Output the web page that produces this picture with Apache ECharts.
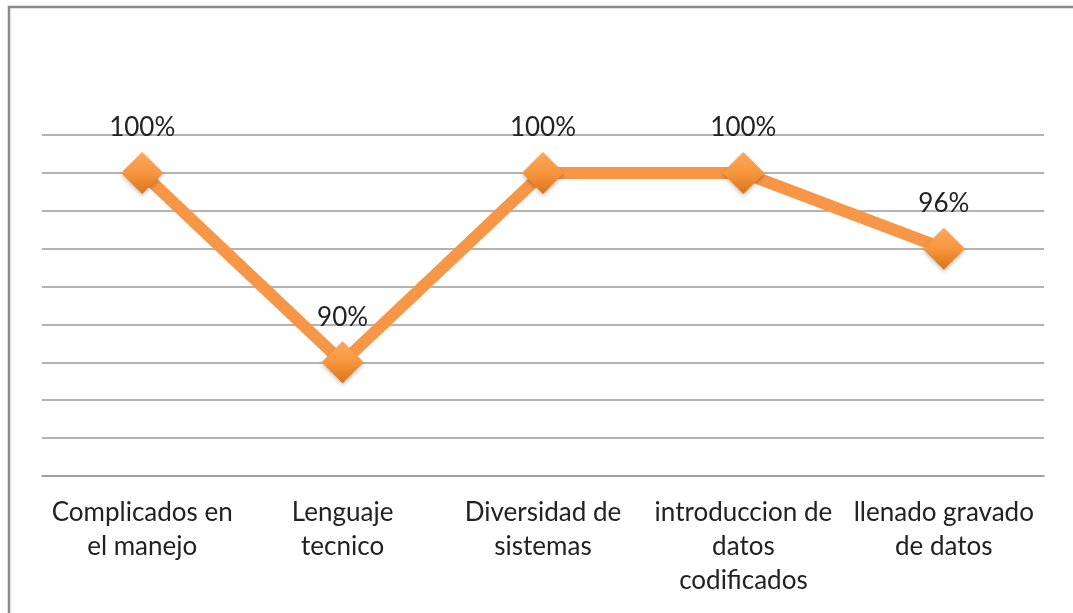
<!DOCTYPE html>
<html>
<head>
<meta charset="utf-8">
<script src="https://cdn.jsdelivr.net/npm/echarts@6/dist/echarts.min.js"></script>
<style>
  html, body { margin: 0; padding: 0; background: #fff; }
  #chart { width: 1073px; height: 613px; }
</style>
</head>
<body>
<div id="chart"></div>
<script>
(function() {
  var categories = [
    'Complicados en\nel manejo',
    'Lenguaje\ntecnico',
    'Diversidad de\nsistemas',
    'introduccion de\ndatos\ncodificados',
    'llenado gravado\nde datos'
  ];
  var values = [100, 90, 100, 100, 96];
  var yMin = 84, yMax = 102, yStep = 2;

  var font = 'Lato, "Open Sans", sans-serif';
  var orange = '#F79646';
  var grey = '#9a9a9a';

  var chart = echarts.init(document.getElementById('chart'), null, { renderer: 'canvas' });
  chart.setOption({
    animation: false,
    graphic: [{
      type: 'rect',
      shape: { x: 9, y: 7, width: 1300, height: 900 },
      style: { fill: 'none', stroke: '#8a8a8a', lineWidth: 2.5 },
      silent: true
    }],
    grid: { left: 42, right: 29, top: 135, bottom: 137 },
    xAxis: {
      type: 'category',
      data: categories,
      boundaryGap: true,
      axisLine: { show: true, lineStyle: { color: grey, width: 1.5 } },
      axisTick: { show: false },
      axisLabel: {
        interval: 0,
        margin: 20,
        color: '#222',
        fontFamily: font,
        fontSize: 26,
        lineHeight: 34,
        align: 'center'
      }
    },
    yAxis: {
      type: 'value',
      min: yMin,
      max: yMax,
      interval: yStep,
      axisLine: { show: false },
      axisTick: { show: false },
      axisLabel: { show: false },
      splitLine: { lineStyle: { color: grey, width: 1.5 } }
    },
    series: [{
      type: 'line',
      data: values,
      symbol: 'diamond',
      symbolSize: 42,
      lineStyle: { color: orange, width: 12, join: 'round' },
      itemStyle: {
        color: new echarts.graphic.LinearGradient(0, 0, 0, 1, [
          { offset: 0, color: '#FBA95C' },
          { offset: 0.5, color: '#F7963F' },
          { offset: 1, color: '#DA7418' }
        ]),
        shadowColor: 'rgba(0,0,0,0.25)',
        shadowBlur: 4,
        shadowOffsetY: 2
      },
      label: {
        show: true,
        position: 'top',
        distance: 11,
        formatter: function(p) { return p.value + '%'; },
        color: '#222',
        fontFamily: font,
        fontSize: 26
      }
    }]
  });
  window.addEventListener('resize', function() { chart.resize(); });
})();
</script>
</body>
</html>
